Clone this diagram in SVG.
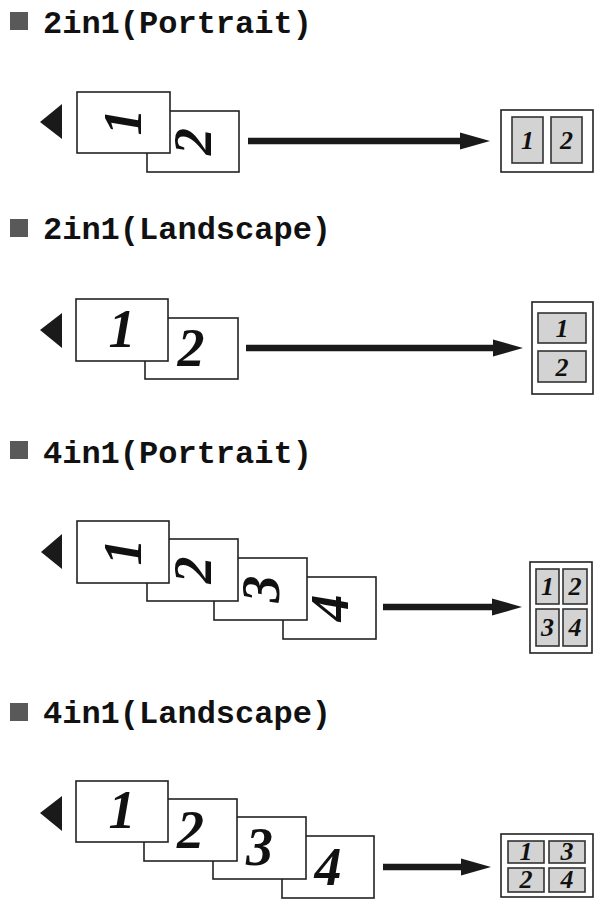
<svg xmlns="http://www.w3.org/2000/svg" width="595" height="904" viewBox="0 0 595 904">
<style>
.title{font-family:"Liberation Mono","Courier New",monospace;font-weight:bold;font-size:32px;fill:#111}
.bullet{fill:#595959}
.sheet{fill:#fff;stroke:#222;stroke-width:1.6}
.num{font-family:"Liberation Serif","Times New Roman",serif;font-weight:bold;font-style:italic;font-size:54px;fill:#111;text-anchor:middle}
.cnum{font-family:"Liberation Serif","Times New Roman",serif;font-weight:bold;font-style:italic;font-size:26px;fill:#111;text-anchor:middle}
.out{fill:#fff;stroke:#222;stroke-width:1.6}
.cell{fill:#d3d3d3;stroke:#333;stroke-width:1.6}
.tri{fill:#1a1a1a}
.conn{stroke:#1a1a1a;stroke-width:6.5;fill:none;marker-end:url(#ah)}
</style>
<defs>
<marker id="ah" markerUnits="userSpaceOnUse" markerWidth="32" markerHeight="18" refX="1" refY="8.5" orient="auto" overflow="visible">
<path d="M0,0 L30,8.5 L0,17 Z" fill="#1a1a1a"/>
</marker>
</defs>

<!-- Section 1 -->
<g id="title1"><rect class="bullet" x="10" y="12" width="18" height="18"/><text class="title" x="43" y="33">2in1(Portrait)</text></g>
<g id="src1">
<polygon class="tri" points="40,122 62,104 62,139"/>
<rect class="sheet" x="147" y="111" width="92" height="61"/>
<text class="num" transform="translate(193,141.5) rotate(-90)" x="0" y="18">2</text>
<rect class="sheet" x="77" y="92" width="93" height="61"/>
<text class="num" transform="translate(123,122) rotate(-90)" x="0" y="18">1</text>
</g>
<g id="res1">
<rect class="out" x="501" y="110" width="92" height="62"/>
<rect class="cell" x="512" y="117" width="31" height="46"/>
<rect class="cell" x="551" y="117" width="31" height="46"/>
<text class="cnum" x="527.5" y="149">1</text>
<text class="cnum" x="566.5" y="149">2</text>
</g>

<!-- Section 2 -->
<g id="title2"><rect class="bullet" x="10" y="219" width="18" height="18"/><text class="title" x="43" y="239">2in1(Landscape)</text></g>
<g id="src2">
<polygon class="tri" points="40,330 62,313 62,348"/>
<rect class="sheet" x="145" y="318" width="93" height="61"/>
<text class="num" x="191" y="366">2</text>
<rect class="sheet" x="76" y="299" width="92" height="62"/>
<text class="num" x="122" y="347">1</text>
</g>
<g id="res2">
<rect class="out" x="532" y="302" width="61" height="92"/>
<rect class="cell" x="538" y="313" width="48" height="30"/>
<rect class="cell" x="538" y="351" width="48" height="31"/>
<text class="cnum" x="562" y="337">1</text>
<text class="cnum" x="562" y="375.5">2</text>
</g>

<!-- Section 3 -->
<g id="title3"><rect class="bullet" x="10" y="441" width="18" height="18"/><text class="title" x="43" y="463">4in1(Portrait)</text></g>
<g id="src3">
<polygon class="tri" points="41,552 62,534 62,569"/>
<rect class="sheet" x="283" y="577" width="93" height="62"/>
<text class="num" transform="translate(329.5,608) rotate(-90)" x="0" y="18">4</text>
<rect class="sheet" x="214" y="558" width="93" height="62"/>
<text class="num" transform="translate(260.5,589) rotate(-90)" x="0" y="18">3</text>
<rect class="sheet" x="147" y="539" width="91" height="62"/>
<text class="num" transform="translate(192.5,570) rotate(-90)" x="0" y="18">2</text>
<rect class="sheet" x="77" y="521" width="92" height="62"/>
<text class="num" transform="translate(123,552) rotate(-90)" x="0" y="18">1</text>
</g>
<g id="res3">
<rect class="out" x="530" y="562" width="62" height="91"/>
<rect class="cell" x="536" y="569" width="23" height="35"/>
<rect class="cell" x="563" y="569" width="24" height="35"/>
<rect class="cell" x="536" y="609" width="23" height="37"/>
<rect class="cell" x="563" y="609" width="24" height="37"/>
<text class="cnum" x="547.5" y="595">1</text>
<text class="cnum" x="575" y="595">2</text>
<text class="cnum" x="547.5" y="636">3</text>
<text class="cnum" x="575" y="636">4</text>
</g>

<!-- Section 4 -->
<g id="title4"><rect class="bullet" x="10" y="703" width="18" height="18"/><text class="title" x="43" y="723">4in1(Landscape)</text></g>
<g id="src4">
<polygon class="tri" points="40,813 62,796 62,831"/>
<rect class="sheet" x="282" y="836" width="92" height="62"/>
<text class="num" x="328" y="884.5">4</text>
<rect class="sheet" x="213" y="817" width="93" height="62"/>
<text class="num" x="259.5" y="865">3</text>
<rect class="sheet" x="144" y="799" width="93" height="62"/>
<text class="num" x="190.5" y="847.5">2</text>
<rect class="sheet" x="76" y="781" width="92" height="61"/>
<text class="num" x="122" y="828">1</text>
</g>
<g id="res4">
<rect class="out" x="501" y="834" width="92" height="63"/>
<rect class="cell" x="508" y="841" width="36" height="22"/>
<rect class="cell" x="549" y="841" width="36" height="22"/>
<rect class="cell" x="508" y="868" width="36" height="24"/>
<rect class="cell" x="549" y="868" width="36" height="24"/>
<text class="cnum" x="526" y="860">1</text>
<text class="cnum" x="567" y="860">3</text>
<text class="cnum" x="526" y="888">2</text>
<text class="cnum" x="567" y="888">4</text>
</g>

<g id="connectors">
<line class="conn" x1="248" y1="141" x2="461" y2="141"/>
<line class="conn" x1="246" y1="348" x2="494" y2="348"/>
<line class="conn" x1="383" y1="607" x2="493" y2="607"/>
<line class="conn" x1="383" y1="867" x2="462" y2="867"/>
</g>
</svg>
